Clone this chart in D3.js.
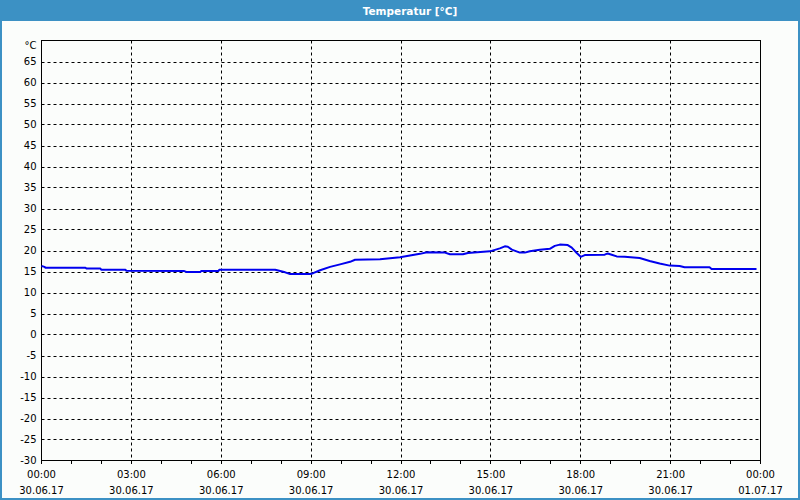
<!DOCTYPE html>
<html>
<head>
<meta charset="utf-8">
<script src="https://cdn.jsdelivr.net/npm/d3@7"></script>
<style>
  html, body { margin: 0; padding: 0; background: #fbfdfb; }
  svg { display: block; }
</style>
</head>
<body>
<svg id="chart" width="800" height="500"></svg>
<script>
// ---- data ----
const title = "Temperatur [°C]";
const unitLabel = "°C";
const times = ["00:00","00:06","00:08","01:28","01:30","01:58","02:00","02:48","02:50","04:46",
  "04:50","05:18","05:20","05:54","05:56","07:48","08:08","08:18","08:58","09:04",
  "09:18","09:38","09:58","10:18","10:28","11:18","11:58","12:18","12:38","12:52",
  "13:28","13:38","14:04","14:14","14:58","15:18","15:28","15:34","15:42","15:58",
  "16:08","16:18","16:38","16:58","17:08","17:18","17:34","17:42","17:52","18:00",
  "18:08","18:48","18:54","19:02","19:12","19:28","19:58","20:18","20:38","20:58",
  "21:18","21:28","22:18","22:22","23:52"];
const temps = [16.3,16.1,15.9,15.9,15.7,15.7,15.4,15.4,15.2,15.1,
  14.9,14.9,15.1,15.1,15.4,15.4,14.8,14.4,14.4,14.6,
  15.3,16.1,16.7,17.3,17.8,17.9,18.4,18.8,19.2,19.6,
  19.5,19.1,19.1,19.4,19.8,20.5,21.0,20.9,20.2,19.5,
  19.5,19.8,20.2,20.4,21.1,21.4,21.3,20.7,19.4,18.5,
  18.9,19.0,19.3,19.0,18.6,18.5,18.2,17.5,16.9,16.4,
  16.3,16.0,16.0,15.6,15.6];
const yTicks = [-30,-25,-20,-15,-10,-5,0,5,10,15,20,25,30,35,40,45,50,55,60,65];
const xTickTimes = ["2017-06-30T00:00","2017-06-30T03:00","2017-06-30T06:00","2017-06-30T09:00",
  "2017-06-30T12:00","2017-06-30T15:00","2017-06-30T18:00","2017-06-30T21:00","2017-07-01T00:00"];
const xTickTimeLabels = ["00:00","03:00","06:00","09:00","12:00","15:00","18:00","21:00","00:00"];
const xTickDateLabels = ["30.06.17","30.06.17","30.06.17","30.06.17","30.06.17","30.06.17","30.06.17","30.06.17","01.07.17"];

// ---- drawing ----
const svg = d3.select("#chart");
const W = 800, H = 500;
const blue = "#3c91c4";
const font = "'DejaVu Sans', Verdana, sans-serif";

svg.append("rect").attr("width", W).attr("height", H).attr("fill", "#fbfdfb");
// title bar
svg.append("rect").attr("x", 0).attr("y", 0).attr("width", W).attr("height", 21).attr("fill", blue);
svg.append("text").attr("x", 410).attr("y", 14.5).attr("text-anchor", "middle")
  .attr("fill", "#ffffff").attr("font-family", font).attr("font-weight", "bold")
  .attr("font-size", "10.5px").text(title);
// window border
svg.append("rect").attr("x", 0).attr("y", 20).attr("width", 2).attr("height", H - 20).attr("fill", blue);
svg.append("rect").attr("x", W - 2).attr("y", 20).attr("width", 2).attr("height", H - 20).attr("fill", blue);
svg.append("rect").attr("x", 0).attr("y", H - 2).attr("width", W).attr("height", 2).attr("fill", blue);

const parse = d3.timeParse("%Y-%m-%dT%H:%M");
const t0 = parse("2017-06-30T00:00"), t1 = parse("2017-07-01T00:00");
const x = d3.scaleTime().domain([t0, t1]).range([41.5, 760.5]);
const y = d3.scaleLinear().domain([-30, 70]).range([460.5, 40.5]);

// horizontal grid
svg.append("g").selectAll("line").data(yTicks.filter(v => v > -30)).join("line")
  .attr("x1", x(t0)).attr("x2", x(t1))
  .attr("y1", d => Math.round(y(d)) + 0.5).attr("y2", d => Math.round(y(d)) + 0.5)
  .attr("stroke", "#000").attr("stroke-width", 1).attr("stroke-dasharray", "3,3");

// vertical grid
const xTicks = xTickTimes.map(parse);
svg.append("g").selectAll("line").data(xTicks.slice(1, -1)).join("line")
  .attr("x1", d => Math.round(x(d) - 0.5) + 0.5).attr("x2", d => Math.round(x(d) - 0.5) + 0.5)
  .attr("y1", y(70)).attr("y2", y(-30))
  .attr("stroke", "#000").attr("stroke-width", 1).attr("stroke-dasharray", "3,3");

// frame
svg.append("rect").attr("x", x(t0)).attr("y", y(70))
  .attr("width", x(t1) - x(t0)).attr("height", y(-30) - y(70))
  .attr("fill", "none").attr("stroke", "#000").attr("stroke-width", 1);

// hourly minor ticks
const hours = d3.timeHour.range(t0, d3.timeHour.offset(t1, 1));
svg.append("g").selectAll("line").data(hours).join("line")
  .attr("x1", d => Math.round(x(d) - 0.5) + 0.5).attr("x2", d => Math.round(x(d) - 0.5) + 0.5)
  .attr("y1", y(-30)).attr("y2", y(-30) + 3.5)
  .attr("stroke", "#000").attr("stroke-width", 1);

// y labels
svg.append("g").selectAll("text").data(yTicks).join("text")
  .attr("x", 36.5).attr("y", d => y(d)).attr("dy", "0.36em")
  .attr("text-anchor", "end").attr("font-family", font).attr("font-size", "10px")
  .attr("fill", "#000").text(d => d);
svg.append("text").attr("x", 36.5).attr("y", y(70) + 5).attr("dy", "0.36em")
  .attr("text-anchor", "end").attr("font-family", font).attr("font-size", "10px")
  .attr("fill", "#000").text(unitLabel);

// x labels
const xl = svg.append("g").selectAll("g").data(xTicks).join("g")
  .attr("transform", d => `translate(${x(d)},0)`);
xl.append("text").attr("y", 478).attr("text-anchor", "middle").attr("font-family", font)
  .attr("font-size", "10px").attr("fill", "#000").text((d, i) => xTickTimeLabels[i]);
xl.append("text").attr("y", 494).attr("text-anchor", "middle").attr("font-family", font)
  .attr("font-size", "10px").attr("fill", "#000").text((d, i) => xTickDateLabels[i]);

// series
const parseT = d3.timeParse("%H:%M");
const data = times.map((t, i) => {
  const p = parseT(t);
  return { t: new Date(2017, 5, 30, p.getHours(), p.getMinutes()), v: temps[i] };
});
svg.append("path").datum(data)
  .attr("fill", "none").attr("stroke", "#0000ee").attr("stroke-width", 2)
  .attr("stroke-linejoin", "round")
  .attr("d", d3.line().x(d => x(d.t)).y(d => y(d.v)).curve(d3.curveLinear));
</script>
</body>
</html>
